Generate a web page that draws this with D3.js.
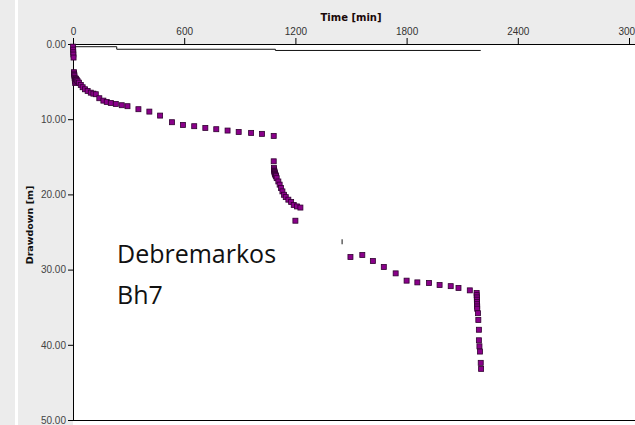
<!DOCTYPE html>
<html>
<head>
<meta charset="utf-8">
<script src="https://cdn.jsdelivr.net/npm/d3@7"></script>
<style>
  body { margin: 0; background: #ececec; }
  svg { display: block; }
</style>
</head>
<body>
<script>
// Pumping test, Debremarkos Bh7 - drawdown vs time
var timeTicks = [0, 600, 1200, 1800, 2400, 3000];
var drawdownTicks = [0, 10, 20, 30, 40, 50];

// observed drawdown points (time in min, drawdown in m)
var obsTime = [0.5, 1, 1.5, 2, 3,
    5, 6, 7, 8, 9, 10, 11, 12, 13, 15, 17, 20, 25, 32, 42, 52, 65, 79, 96, 110, 123,
    142, 164, 182, 204, 231, 263, 294, 353, 412, 470, 534, 593, 654, 714, 773, 834, 894, 961, 1020, 1083,
    1083, 1084, 1085, 1086, 1087, 1088, 1089, 1090, 1092, 1094, 1096,
    1099, 1108, 1115, 1122, 1130, 1139, 1148, 1162, 1177, 1191, 1209, 1227, 1200,
    1497, 1561, 1618, 1677, 1741, 1800, 1858, 1921, 1978, 2038, 2080, 2141,
    2178, 2178, 2179, 2179, 2180, 2180, 2181, 2181, 2185, 2187, 2190, 2190, 2193, 2196, 2200, 2202];
var obsDrawdown = [0.35, 0.75, 1.1, 1.4, 1.8,
    3.75, 3.95, 4.1, 4.3, 4.55, 4.75, 4.9, 5.2, 5.0, 4.6, 4.69, 4.8, 4.95, 5.14, 5.44, 5.75, 6.02, 6.24, 6.47, 6.6, 6.68,
    7.21, 7.53, 7.7, 7.84, 7.97, 8.14, 8.27, 8.67, 8.99, 9.52, 10.4, 10.76, 10.93, 11.16, 11.33, 11.51, 11.69, 11.82, 11.95, 12.22,
    15.6, 16.5, 16.7, 16.9, 17.0, 17.1, 17.2, 17.3, 17.4, 17.5, 17.6,
    17.84, 18.28, 18.7, 19.16, 19.6, 20.05, 20.36, 20.7, 21.0, 21.4, 21.6, 21.75, 23.5,
    28.33, 28.06, 28.86, 29.65, 30.5, 31.47, 31.7, 31.78, 32.05, 32.2, 32.44, 32.76,
    33.1, 33.4, 33.7, 34.0, 34.3, 34.6, 34.9, 35.2, 35.8, 36.7, 38.0, 39.4, 40.2, 40.9, 42.4, 43.2];

// lone reading drawn as a thin dash
var dashTime = [1452];
var dashDrawdown = [26.3];

// thin step line near the top
var stepTime = [0, 5, 236, 1092, 2200];
var stepValue = [0, 0.36, 0.7, 0.86, 0.86];

var width = 635;
var height = 425;
var plotLeft = 73, plotTop = 44, plotRight = 629, plotBottom = 420;

var svg = d3.select("body")
    .append("svg")
    .attr("width", width)
    .attr("height", height)
    .style("font-family", "'DejaVu Sans', sans-serif");

// background panels
svg.append("rect").attr("x", 0).attr("y", 0).attr("width", width).attr("height", height).attr("fill", "#ececec");
svg.append("rect").attr("x", 15).attr("y", 0).attr("width", 3).attr("height", height).attr("fill", "#ffffff");
svg.append("rect").attr("x", plotLeft).attr("y", plotTop).attr("width", width - plotLeft).attr("height", height - plotTop).attr("fill", "#ffffff");

var x = d3.scaleLinear().domain([0, 3000]).range([plotLeft, plotRight]);
var y = d3.scaleLinear().domain([0, 50]).range([plotTop, plotBottom]);

// top time axis
var xAxis = svg.append("g")
    .attr("transform", "translate(0," + plotTop + ")")
    .call(d3.axisTop(x).tickValues(timeTicks).tickSize(6).tickSizeOuter(0).tickPadding(3).tickFormat(d3.format("d")));
xAxis.select(".domain").attr("d", "M" + plotLeft + ",0.5H" + width).attr("stroke", "#000");
xAxis.selectAll("text").attr("fill", "#333").style("font-size", "10px");

// left drawdown axis
var yAxis = svg.append("g")
    .attr("transform", "translate(" + plotLeft + ",0)")
    .call(d3.axisLeft(y).tickValues(drawdownTicks).tickSize(5).tickSizeOuter(0).tickPadding(2).tickFormat(d3.format(".2f")));
yAxis.select(".domain").attr("stroke", "#000");
yAxis.selectAll("text").attr("fill", "#444").style("font-size", "10px");

// bottom frame line
svg.append("line")
    .attr("x1", plotLeft).attr("x2", width)
    .attr("y1", y(50) + 0.5).attr("y2", y(50) + 0.5)
    .attr("stroke", "#000");

// axis titles
svg.append("text")
    .attr("x", (plotLeft + plotRight) / 2)
    .attr("y", 21)
    .attr("text-anchor", "middle")
    .style("font-size", "10px")
    .style("font-weight", "bold")
    .attr("fill", "#1a0808")
    .text("Time [min]");

svg.append("text")
    .attr("transform", "translate(33,225) rotate(-90)")
    .attr("text-anchor", "middle")
    .style("font-size", "9.5px")
    .style("font-weight", "bold")
    .attr("fill", "#111")
    .text("Drawdown [m]");

// step line
var stepData = stepTime.map(function (t, i) { return [t, stepValue[i]]; });
svg.append("path")
    .datum(stepData)
    .attr("fill", "none")
    .attr("stroke", "#111")
    .attr("stroke-width", 1)
    .attr("d", d3.line()
        .x(function (d) { return x(d[0]); })
        .y(function (d) { return y(d[1]); })
        .curve(d3.curveStepAfter));

// observed points
var obs = obsTime.map(function (t, i) { return [t, obsDrawdown[i]]; });
svg.append("g")
    .selectAll("rect")
    .data(obs)
    .enter()
    .append("rect")
    .attr("x", function (d) { return x(d[0]) - 2.5; })
    .attr("y", function (d) { return y(d[1]) - 2.5; })
    .attr("width", 5)
    .attr("height", 5)
    .attr("fill", "#8a008a")
    .attr("stroke", "#300030")
    .attr("stroke-width", 0.8);

svg.append("g")
    .selectAll("line")
    .data(dashTime.map(function (t, i) { return [t, dashDrawdown[i]]; }))
    .enter()
    .append("line")
    .attr("x1", function (d) { return x(d[0]); })
    .attr("x2", function (d) { return x(d[0]); })
    .attr("y1", function (d) { return y(d[1]) - 2.5; })
    .attr("y2", function (d) { return y(d[1]) + 2.5; })
    .attr("stroke", "#111")
    .attr("stroke-width", 1);

// well label
var label = svg.append("text")
    .style("font-family", "'Open Sans', sans-serif")
    .style("font-size", "25px")
    .attr("fill", "#111");
label.append("tspan").attr("x", 117).attr("y", 263).text("Debremarkos");
label.append("tspan").attr("x", 117).attr("y", 304).text("Bh7");
</script>
</body>
</html>
